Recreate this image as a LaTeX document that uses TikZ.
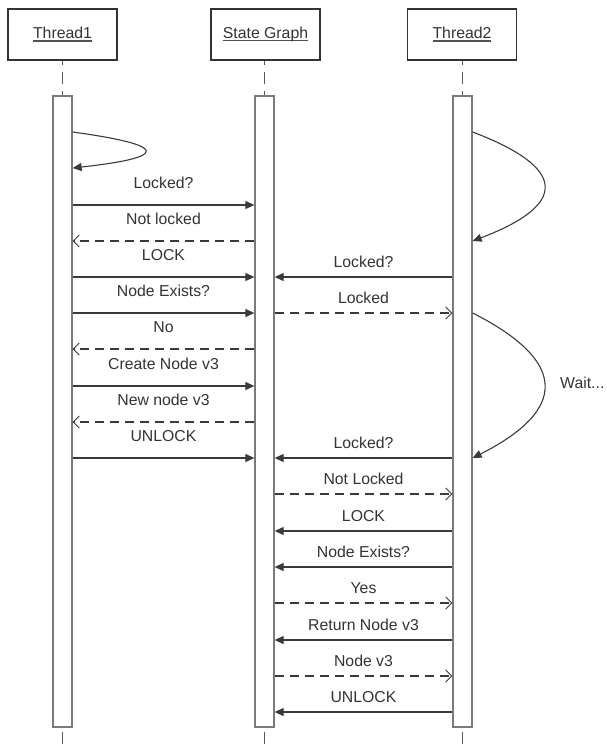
\documentclass[tikz,border=0pt]{standalone}
\usepackage{fontspec}
\setmainfont{Liberation Sans}
\usetikzlibrary{arrows.meta}
\definecolor{ink}{HTML}{333333}
\definecolor{wire}{HTML}{3A3A3A}
\definecolor{barline}{HTML}{7A7A7A}
% underlined participant name with a fixed rule just below the baseline
\newcommand\actorlabel[1]{\setbox0\hbox{#1}\rlap{\textcolor{ink!85}{\rule[-2.6pt]{\wd0}{1.2pt}}}\box0}
\tikzset{
  headbox/.style={draw=ink, line width=1.2pt, fill=white, minimum width=109pt,
    minimum height=51pt, inner sep=0pt, text=ink},
  actbar/.style={draw=barline, line width=1.3pt, fill=white, minimum width=19pt,
    minimum height=631pt, inner sep=0pt},
  lifeline/.style={draw=wire!85, line width=1.2pt, dash pattern=on 12pt off 7pt},
  call/.style={draw=wire, line width=1.1pt, -{Triangle[length=9pt,width=8pt]}},
  reply/.style={draw=wire, line width=1.1pt, dash pattern=on 9pt off 6pt,
    -{Straight Barb[length=6pt,width=12pt,line width=0.9pt]}},
  lableft/.style={midway, anchor=base, yshift=17pt, text=ink, inner sep=0pt},
  labright/.style={midway, anchor=base, yshift=10pt, text=ink, inner sep=0pt},
}
\begin{document}
\begin{tikzpicture}[x=1pt, y=-1pt, font=\fontsize{15.8}{18}\selectfont]
\useasboundingbox (0,0) rectangle (606,744);

% participants
\node[headbox] (h1) at (62.5,34.5) {\actorlabel{Thread1}};
\node[headbox] (h2) at (265.5,34.5) {\actorlabel{State Graph}};
\node[headbox] (h3) at (462,34.5) {\actorlabel{Thread2}};

% lifelines
\coordinate (e1) at (62.5,744);
\coordinate (e2) at (264.5,744);
\coordinate (e3) at (462.5,744);
\node[actbar] (b1) at (62.5,411.5) {};
\node[actbar] (b2) at (264.5,411.5) {};
\node[actbar] (b3) at (462.5,411.5) {};
\draw[lifeline, dash phase=8pt] (h1.south -| b1.north) -- (b1.north);
\draw[lifeline, dash phase=8pt] (h2.south -| b2.north) -- (b2.north);
\draw[lifeline, dash phase=8pt] (h3.south -| b3.north) -- (b3.north);
\draw[lifeline, dash phase=15pt] (b1.south) -- (e1);
\draw[lifeline, dash phase=15pt] (b2.south) -- (e2);
\draw[lifeline, dash phase=15pt] (b3.south) -- (e3);

% self calls (parabolic loops)
\draw[call] (b1.east |- 0,132) .. controls (169.3,145.3) and (169.3,157.3) .. (b1.east |- 0,168);
\draw[call] (b3.east |- 0,132) .. controls (568,168.3) and (568,204.7) .. (b3.east |- 0,241);
\draw[call] (b3.east |- 0,313) .. controls (568,361.3) and (568,409.7) .. (b3.east |- 0,458);
\node[anchor=base west, text=ink, inner sep=0pt] (wait) at (560,388) {Wait...};

% Thread1 <-> State Graph
\draw[call]  (b1.east |- 0,205) -- node[lableft] (l1) {Locked?} (b2.west |- 0,205);
\draw[reply] (b2.west |- 0,241) -- node[lableft] (l2) {Not locked} (b1.east |- 0,241);
\draw[call]  (b1.east |- 0,277) -- node[lableft] (l3) {LOCK} (b2.west |- 0,277);
\draw[call]  (b1.east |- 0,313) -- node[lableft] (l4) {Node Exists?} (b2.west |- 0,313);
\draw[reply] (b2.west |- 0,349) -- node[lableft] (l5) {No} (b1.east |- 0,349);
\draw[call]  (b1.east |- 0,386) -- node[lableft] (l6) {Create Node v3} (b2.west |- 0,386);
\draw[reply] (b2.west |- 0,422) -- node[lableft] (l7) {New node v3} (b1.east |- 0,422);
\draw[call]  (b1.east |- 0,458) -- node[lableft] (l8) {UNLOCK} (b2.west |- 0,458);

% Thread2 <-> State Graph
\draw[call]  (b3.west |- 0,277) -- node[labright] (r1) {Locked?} (b2.east |- 0,277);
\draw[reply] (b2.east |- 0,313) -- node[labright] (r2) {Locked} (b3.west |- 0,313);
\draw[call]  (b3.west |- 0,458) -- node[labright] (r3) {Locked?} (b2.east |- 0,458);
\draw[reply] (b2.east |- 0,494) -- node[labright] (r4) {Not Locked} (b3.west |- 0,494);
\draw[call]  (b3.west |- 0,531) -- node[labright] (r5) {LOCK} (b2.east |- 0,531);
\draw[call]  (b3.west |- 0,567) -- node[labright] (r6) {Node Exists?} (b2.east |- 0,567);
\draw[reply] (b2.east |- 0,603) -- node[labright] (r7) {Yes} (b3.west |- 0,603);
\draw[call]  (b3.west |- 0,640) -- node[labright] (r8) {Return Node v3} (b2.east |- 0,640);
\draw[reply] (b2.east |- 0,676) -- node[labright] (r9) {Node v3} (b3.west |- 0,676);
\draw[call]  (b3.west |- 0,712) -- node[labright] (r10) {UNLOCK} (b2.east |- 0,712);
\end{tikzpicture}
\end{document}
